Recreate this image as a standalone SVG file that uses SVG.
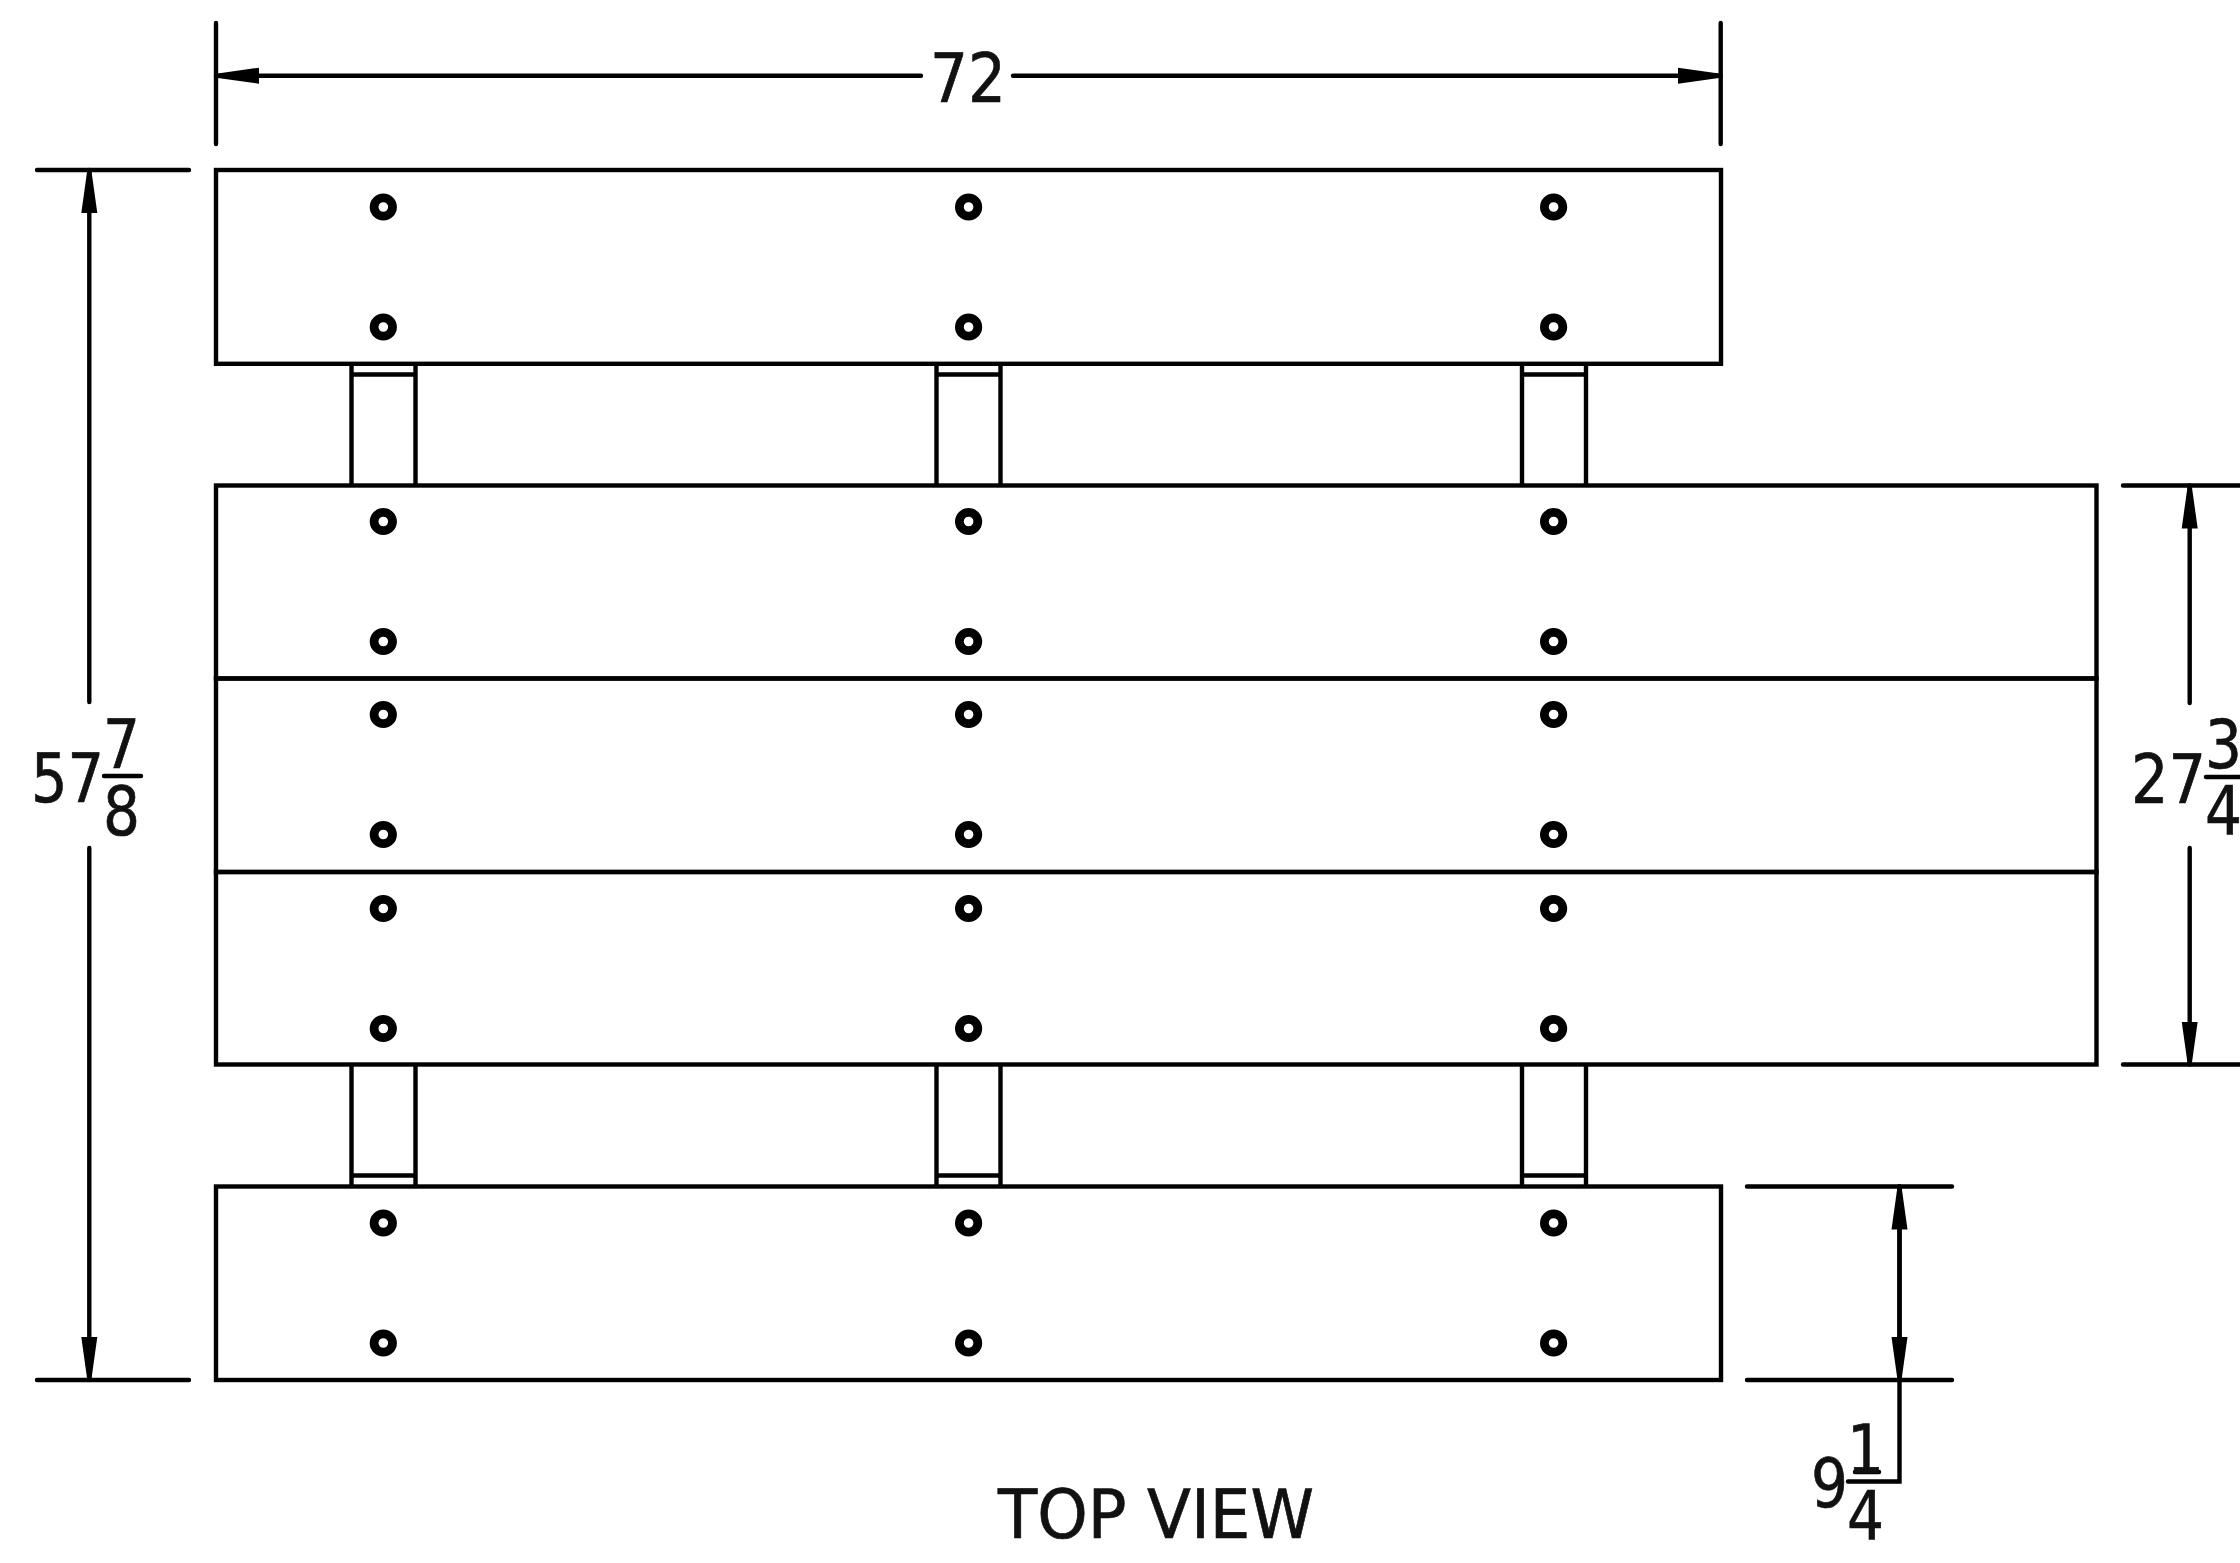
<svg xmlns="http://www.w3.org/2000/svg" width="2240" height="1563" viewBox="0 0 2240 1563">
<style>
.p{fill:none;stroke:#000;stroke-width:4.4}
.l{fill:none;stroke:#000;stroke-width:4.4;stroke-linecap:round}
.s{fill:none;stroke:#000;stroke-width:8.8}
.t{font-family:"DejaVu Sans","Liberation Sans",sans-serif;font-size:68px;fill:#111;stroke:#111;stroke-width:.7}
.ar{marker-start:url(#a)}
</style>
<defs>
<marker id="a" markerUnits="userSpaceOnUse" markerWidth="46" markerHeight="20" viewBox="0 -10 46 20" refX="43" refY="0" orient="auto-start-reverse"><path d="M0,-8 L43,-2 L43,2 L0,8 Z" fill="#000"/></marker>
</defs>
<rect width="2240" height="1563" fill="#fff"/>
<g id="post-t1"><path class="p" d="M351.5,362V485.5M415.5,362V485.5M351.5,374.5H415.5"/></g>
<g id="post-t2"><path class="p" d="M936.5,362V485.5M1000.5,362V485.5M936.5,374.5H1000.5"/></g>
<g id="post-t3"><path class="p" d="M1522,362V485.5M1586,362V485.5M1522,374.5H1586"/></g>
<g id="post-b1"><path class="p" d="M351.5,1064.5V1188M415.5,1064.5V1188M351.5,1175.5H415.5"/></g>
<g id="post-b2"><path class="p" d="M936.5,1064.5V1188M1000.5,1064.5V1188M936.5,1175.5H1000.5"/></g>
<g id="post-b3"><path class="p" d="M1522,1064.5V1188M1586,1064.5V1188M1522,1175.5H1586"/></g>
<g id="plank-top"><rect class="p" x="216" y="170" width="1505" height="193.8"/>
<circle class="s" cx="383.3" cy="207" r="9.2"/><circle class="s" cx="968.6" cy="207" r="9.2"/><circle class="s" cx="1553.6" cy="207" r="9.2"/>
<circle class="s" cx="383.3" cy="327" r="9.2"/><circle class="s" cx="968.6" cy="327" r="9.2"/><circle class="s" cx="1553.6" cy="327" r="9.2"/></g>
<g id="plank-mid1"><rect class="p" x="216" y="485.5" width="1880.5" height="193"/>
<circle class="s" cx="383.3" cy="521.5" r="9.2"/><circle class="s" cx="968.6" cy="521.5" r="9.2"/><circle class="s" cx="1553.6" cy="521.5" r="9.2"/>
<circle class="s" cx="383.3" cy="641.5" r="9.2"/><circle class="s" cx="968.6" cy="641.5" r="9.2"/><circle class="s" cx="1553.6" cy="641.5" r="9.2"/></g>
<g id="plank-mid2"><rect class="p" x="216" y="678.5" width="1880.5" height="193.5"/>
<circle class="s" cx="383.3" cy="714.5" r="9.2"/><circle class="s" cx="968.6" cy="714.5" r="9.2"/><circle class="s" cx="1553.6" cy="714.5" r="9.2"/>
<circle class="s" cx="383.3" cy="834.5" r="9.2"/><circle class="s" cx="968.6" cy="834.5" r="9.2"/><circle class="s" cx="1553.6" cy="834.5" r="9.2"/></g>
<g id="plank-mid3"><rect class="p" x="216" y="872" width="1880.5" height="192.5"/>
<circle class="s" cx="383.3" cy="908.5" r="9.2"/><circle class="s" cx="968.6" cy="908.5" r="9.2"/><circle class="s" cx="1553.6" cy="908.5" r="9.2"/>
<circle class="s" cx="383.3" cy="1028.5" r="9.2"/><circle class="s" cx="968.6" cy="1028.5" r="9.2"/><circle class="s" cx="1553.6" cy="1028.5" r="9.2"/></g>
<g id="plank-bottom"><rect class="p" x="216" y="1186.5" width="1505" height="193.5"/>
<circle class="s" cx="383.3" cy="1223" r="9.2"/><circle class="s" cx="968.6" cy="1223" r="9.2"/><circle class="s" cx="1553.6" cy="1223" r="9.2"/>
<circle class="s" cx="383.3" cy="1343" r="9.2"/><circle class="s" cx="968.6" cy="1343" r="9.2"/><circle class="s" cx="1553.6" cy="1343" r="9.2"/></g>
<g id="connectors">
<path class="l" d="M216,23V144M1720.7,23V144"/>
<path class="l ar" d="M216,75.7H921"/>
<path class="l ar" d="M1720.7,75.7H1013"/>
<path class="l" d="M37,170H189M37,1380H189"/>
<path class="l ar" d="M89.3,170V702"/>
<path class="l ar" d="M89.3,1380V848"/>
<path class="l" d="M2123,485.5H2250M2123,1064.5H2250"/>
<path class="l ar" d="M2189.7,485.5V703"/>
<path class="l ar" d="M2189.7,1064.5V848"/>
<path class="l" d="M1747,1186.5H1952M1747,1380H1952"/>
<path class="l ar" d="M1899.5,1380V1186.5"/>
<path class="l ar" d="M1899.5,1186.5V1380"/>
<path class="l" d="M1899.5,1380V1481.5H1848"/>
<path class="l" d="M104,776H141M2206,777H2250"/>
<path class="l" d="M1855,1472H1879"/>
</g>
<g id="labels">
<text class="t" x="930" y="101.5" textLength="76" lengthAdjust="spacingAndGlyphs">72</text>
<text class="t" x="31" y="801.5" textLength="73" lengthAdjust="spacingAndGlyphs">57</text>
<text class="t" x="103" y="768" textLength="37" lengthAdjust="spacingAndGlyphs">7</text>
<text class="t" x="103" y="835" textLength="37" lengthAdjust="spacingAndGlyphs">8</text>
<text class="t" x="2131" y="802.5" textLength="75" lengthAdjust="spacingAndGlyphs">27</text>
<text class="t" x="2205" y="768" textLength="37" lengthAdjust="spacingAndGlyphs">3</text>
<text class="t" x="2205" y="835" textLength="37" lengthAdjust="spacingAndGlyphs">4</text>
<text class="t" x="1811" y="1507" textLength="37" lengthAdjust="spacingAndGlyphs">9</text>
<text class="t" x="1847" y="1473" textLength="37" lengthAdjust="spacingAndGlyphs">1</text>
<text class="t" x="1847" y="1540" textLength="37" lengthAdjust="spacingAndGlyphs">4</text>
<text class="t" x="998" y="1538" textLength="316" lengthAdjust="spacingAndGlyphs">TOP VIEW</text>
</g>
</svg>
